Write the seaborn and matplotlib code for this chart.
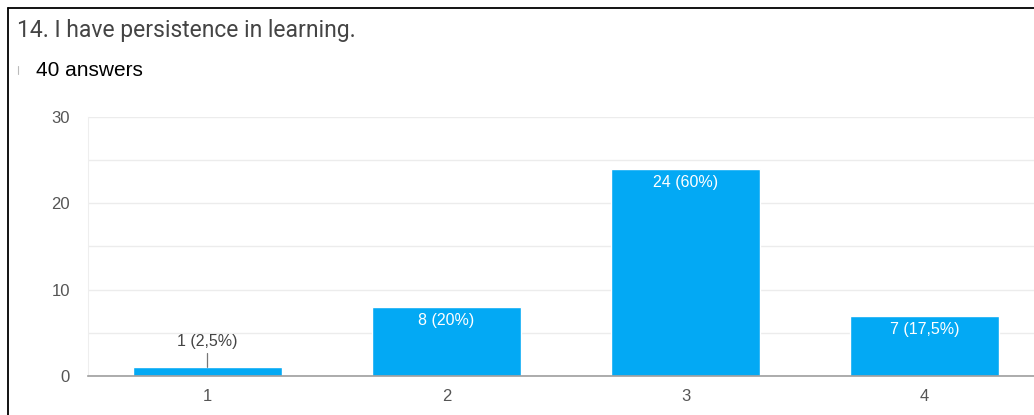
import pandas as pd
import matplotlib.pyplot as plt
import seaborn as sns

# -----------------------------
# Data
# -----------------------------
answers = ["1", "2", "3", "4"]
counts = [1, 8, 24, 7]
labels = ["1 (2,5%)", "8 (20%)", "24 (60%)", "7 (17,5%)"]
title = "14. I have persistence in learning."
subtitle = "40 answers"

df = pd.DataFrame({"answer": answers, "count": counts})

# -----------------------------
# Style
# -----------------------------
sns.set_style("white")
plt.rcParams["font.family"] = ["Liberation Sans", "DejaVu Sans"]

W, H = 1034, 415
fig = plt.figure(figsize=(W / 100, H / 100), dpi=100)

# axes placed in pixel terms: x 88..1044, y 117..376
ax = fig.add_axes([88 / W, 1 - 376 / H, 956 / W, (376 - 117) / H])

sns.barplot(data=df, x="answer", y="count", color="#03a9f4", saturation=1,
            width=0.62, ax=ax, zorder=3)

ax.set_ylim(0, 30)
ax.set_xlim(-0.5, 3.5)
ax.set_yticks([0, 10, 20, 30])
ax.set_yticks([5, 15, 25], minor=True)
ax.grid(axis="y", which="both", color="#ececec", linewidth=1, zorder=0)
ax.set_xlabel("")
ax.set_ylabel("")

for s in ["top", "right"]:
    ax.spines[s].set_visible(False)
ax.spines["left"].set_color("#eeeeee")
ax.spines["bottom"].set_color("#9e9e9e")
ax.spines["bottom"].set_linewidth(1.2)
ax.spines["bottom"].set_zorder(4)

ax.tick_params(axis="both", which="both", length=0, labelsize=12, labelcolor="#555555")
ax.tick_params(axis="y", pad=13)
ax.tick_params(axis="x", pad=9)

# value labels
for i, (c, lab) in enumerate(zip(counts, labels)):
    if c >= 5:
        ax.annotate(lab, (i, c), xytext=(0, -14), textcoords="offset pixels",
                    ha="center", va="center", color="white", fontsize=11.5, zorder=5)
    else:
        ax.annotate(lab, (i, c), xytext=(0, 26), textcoords="offset pixels",
                    ha="center", va="center", color="#444444", fontsize=11.5, zorder=5,
                    arrowprops=dict(arrowstyle="-", color="#777777", lw=0.9,
                                    shrinkA=1, shrinkB=0))

# header texts
fig.text(17 / W, 1 - 31 / H, title, fontsize=16.5, color="#444444",
         family=["Roboto", "DejaVu Sans"], ha="left", va="center")
fig.text(36 / W, 1 - 70 / H, subtitle, fontsize=15, color="black",
         ha="left", va="center")
fig.add_artist(plt.Line2D([17.5 / W, 17.5 / W], [1 - 66 / H, 1 - 74 / H],
                          color="#bbbbbb", lw=0.8))

# frame lines (top and left)
fig.add_artist(plt.Line2D([8 / W, 1], [1 - 8 / H, 1 - 8 / H], color="black", lw=1.3))
fig.add_artist(plt.Line2D([8 / W, 8 / W], [0, 1 - 8 / H], color="black", lw=1.3))

fig.savefig("out.png", dpi=100)
